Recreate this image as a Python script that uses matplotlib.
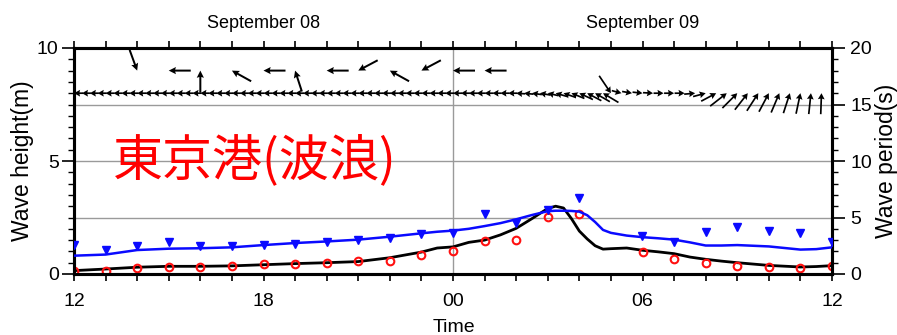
import numpy as np
import matplotlib
matplotlib.use("Agg")
import matplotlib.pyplot as plt
import matplotlib.transforms as mtransforms

plt.rcParams['font.family'] = ['Liberation Sans', 'DejaVu Sans']

# ---- time base: hours since 12:00 on September 08 ----
x_ticks = [0, 6, 12, 18, 24]
x_ticklabels = ['12', '18', '00', '06', '12']
day_labels = ['September 08', 'September 09']
day_label_pos = [6, 18]

# ---- model wave height (m) ----
model_hours = [0, 1, 2, 3, 4, 5, 6, 7, 8, 9, 10, 11, 11.5, 12, 12.5, 13, 13.5,
               14, 14.5, 15, 15.25, 15.5, 15.75, 16, 16.25, 16.5, 16.75, 17,
               17.5, 18, 18.5, 19, 19.5, 20, 20.5, 21, 22, 23, 23.5, 24]
model_height = [0.15, 0.22, 0.30, 0.34, 0.34, 0.36, 0.41, 0.46, 0.50, 0.55,
                0.72, 0.97, 1.15, 1.20, 1.40, 1.50, 1.73, 2.02, 2.45, 2.90,
                3.00, 2.92, 2.45, 1.90, 1.55, 1.25, 1.10, 1.12, 1.15, 1.05,
                0.98, 0.90, 0.75, 0.65, 0.57, 0.50, 0.38, 0.31, 0.33, 0.37]
# ---- model wave period (s) ----
model_period = [1.62, 1.72, 2.12, 2.24, 2.28, 2.36, 2.56, 2.74, 2.88, 3.04,
                3.30, 3.60, 3.74, 3.84, 4.00, 4.24, 4.50, 4.84, 5.22, 5.56,
                5.60, 5.60, 5.58, 5.52, 5.20, 4.60, 3.90, 3.64, 3.40, 3.26,
                3.16, 3.04, 2.80, 2.52, 2.52, 2.56, 2.44, 2.16, 2.20, 2.36]

# ---- hourly observations ----
obs_hours = list(range(25))
obs_height = [0.13, 0.13, 0.28, 0.32, 0.32, 0.35, 0.43, 0.44, 0.50, 0.59,
              0.59, 0.84, 1.03, 1.46, 1.50, 2.54, 2.65, np.nan, 0.99, 0.66,
              0.47, 0.37, 0.32, 0.25, 0.35]
obs_period = [2.56, 2.12, 2.48, 2.86, 2.48, 2.48, 2.56, 2.66, 2.86, 3.00,
              3.16, 3.54, 3.60, 5.28, 4.48, 5.66, 6.70, np.nan, 3.36, 2.86,
              3.68, 4.12, 3.84, 3.60, 2.86]

# ---- wave direction (degrees, counter-clockwise from east, towards) ----
obs_dir_hours = [2, 3, 4, 5, 6, 7, 8, 9, 10, 11, 12, 13]
obs_dir = [-70, 180, 90, 151, 180, 108, 180, 208, 151, 208, 180, 180]

model_dir_hours = np.concatenate([np.arange(0, 16.76, 0.25),
                                  np.arange(17, 23.7, 1 / 3)])
model_dir = [180, 180, 180, 180, 180, 180, 180, 180, 180, 180, 180, 180,
             180, 180, 180, 180, 180, 180, 180, 180, 180, 180, 180, 180,
             180, 180, 180, 180, 180, 180, 180, 180, 180, 180, 180, 180,
             180, 180, 180, 180, 180, 180, 180, 180, 180, 180, 180, 180,
             180, 180, 180, 180, 180, 180, 180, 180,
             176, 174, 172, 170, 167, 164, 161, 158, 155, 152, 150, 149,
             -56, -15, -10, -6, -3, 0, 0, 0, 5, 15, 28, 38, 45, 52, 57, 62,
             67, 72, 78, 84, 88]
model_dir_size = [9, 9, 9, 9, 9, 9, 9, 9, 9, 9, 9, 9, 9, 9, 9, 9, 9, 9, 9, 9,
                  9, 9, 9, 9, 9, 9, 9, 9, 9, 9, 9, 9, 9, 9, 9, 9, 9, 9, 9, 9,
                  9, 9, 9, 9, 9, 9, 9, 9, 9, 9, 9, 9, 9, 9, 9, 9,
                  9, 9.5, 10, 10.5, 11, 12, 13, 14, 15, 16, 17, 18,
                  21, 10, 10, 10, 10, 10, 10, 10, 11, 13, 17, 21, 21, 21, 21,
                  21, 21, 21, 21, 21, 21]

grid_levels = [2.5, 5.0, 7.5]

# ---- figure ----
W, H = 897, 335
fig = plt.figure(figsize=(W / 100, H / 100), dpi=100)
ax = fig.add_axes([74 / W, 1 - 274 / H, 758 / W, 226 / H])
ax.set_xlim(0, 24)
ax.set_ylim(0, 10)

for lvl in grid_levels:
    ax.axhline(lvl, color='#9a9a9a', lw=1.0, zorder=0)
ax.axvline(12, color='#9a9a9a', lw=1.0, zorder=0)

ax.plot(model_hours, model_height, color='black', lw=2.0, zorder=3)
ax.plot(obs_hours, obs_height, 'o', mfc='none', mec='#ff1010', mew=1.5,
        ms=5.5, zorder=4)

# direction arrows (lengths in pixels, tip anchored on the row)
obs_r = np.deg2rad(obs_dir)
ax.quiver(obs_dir_hours, np.full(len(obs_dir_hours), 9.0),
          22 * np.cos(obs_r), 22 * np.sin(obs_r),
          angles='uv', scale_units='dots', scale=1, pivot='tip',
          units='dots', width=2.0, headwidth=3.6, headlength=3.6,
          headaxislength=3.2, color='black', zorder=5)
mod_r = np.deg2rad(model_dir)
mod_s = np.asarray(model_dir_size)
ax.quiver(model_dir_hours, np.full(len(model_dir_hours), 8.0),
          mod_s * np.cos(mod_r), mod_s * np.sin(mod_r),
          angles='uv', scale_units='dots', scale=1, pivot='tip',
          units='dots', width=1.7, headwidth=4.0, headlength=3.6,
          headaxislength=3.2, color='black', zorder=5)

ax2 = ax.twinx()
ax2.set_ylim(0, 20)
ax2.plot(model_hours, model_period, color='#0a0aff', lw=1.8, zorder=3)
ax2.plot(obs_hours, obs_period, 'v', color='#0a0aff', ms=6, zorder=4)

# ticks
ax.set_xticks(x_ticks)
ax.set_xticklabels(x_ticklabels)
ax.set_xticks(range(25), minor=True)
ax.set_yticks([0, 5, 10])
ax.set_yticks(np.arange(0, 10.01, 0.5), minor=True)
ax2.set_yticks([0, 5, 10, 15, 20])
ax2.set_yticks(range(21), minor=True)

ax.tick_params(axis='x', which='both', direction='out', top=True,
               length=5, width=1.2, labelsize=14, pad=9)
ax.tick_params(axis='y', which='major', direction='out', length=9,
               width=1.2, labelsize=14, pad=2)
ax.tick_params(axis='y', which='minor', direction='out', length=4, width=1.0)
ax2.tick_params(axis='y', which='major', direction='out', length=9,
                width=1.2, labelsize=14, pad=4)
ax2.tick_params(axis='y', which='minor', direction='out', length=4, width=1.0)

for a in (ax, ax2):
    for s in a.spines.values():
        s.set_linewidth(2.2)

# labels
blend = mtransforms.blended_transform_factory(ax.transData, ax.transAxes)
for lab, pos in zip(day_labels, day_label_pos):
    ax.text(pos, 1.11, lab, transform=blend, ha='center', va='center',
            fontsize=13)

fig.text(23 / W, 1 - 161 / H, 'Wave height(m)', rotation=90,
         ha='center', va='center', fontsize=16.5)
fig.text(886 / W, 1 - 161 / H, 'Wave period(s)', rotation=90,
         ha='center', va='center', fontsize=16.5)
fig.text(454 / W, 1 - 319 / H, 'Time', ha='center', va='top', fontsize=14)

ax.text(1.22, 5.0, '東京港(波浪)', color='#ff0000', fontsize=36,
        family=['Noto Sans CJK JP', 'DejaVu Sans'], ha='left', va='center',
        zorder=6)

fig.savefig('out.png', dpi=100)
